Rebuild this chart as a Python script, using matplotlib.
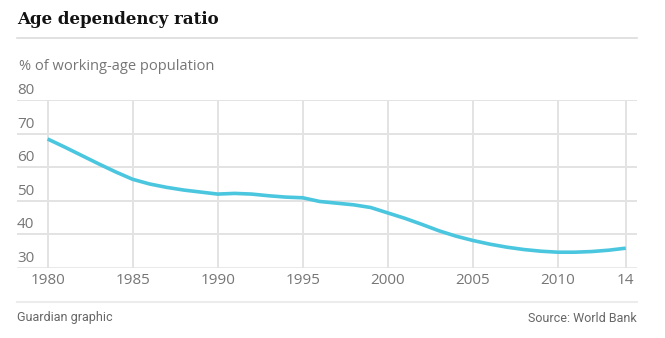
import numpy as np
import matplotlib
matplotlib.use('Agg')
import matplotlib.pyplot as plt
import matplotlib.transforms as mtransforms

# data
years = list(range(1980, 2015))
ratio = [68.4, 66.0, 63.5, 61.0, 58.6, 56.4, 55.0, 54.0, 53.2, 52.6,
         52.0, 52.2, 52.0, 51.5, 51.1, 50.9, 49.8, 49.3, 48.8, 48.0,
         46.4, 44.8, 43.0, 41.1, 39.5, 38.2, 37.1, 36.2, 35.5, 35.0,
         34.7, 34.7, 34.9, 35.3, 35.9]
xticks = [1980, 1985, 1990, 1995, 2000, 2005, 2010, 2014]
xlabels = ['1980', '1985', '1990', '1995', '2000', '2005', '2010', '14']
yticks = [30, 40, 50, 60, 70, 80]

W, H = 665, 338
grid_c = '#e3e3e3'
text_c = '#767676'
line_c = '#4bc6df'
sans = 'Open Sans'

fig = plt.figure(figsize=(W / 100, H / 100), dpi=100)
ax = fig.add_axes([17 / W, (H - 268) / H, (637 - 17) / W, 168 / H])

ax.plot(years, ratio, color=line_c, lw=2.6, solid_capstyle='butt', zorder=3)

ax.set_xlim(1978.2, 2014.66)
ax.set_ylim(30, 80)
for y in yticks:
    ax.axhline(y, color=grid_c, lw=1.4 if y > 30 else 1.8, zorder=1)
for x in xticks:
    ax.axvline(x, color=grid_c, lw=1.4, zorder=1)
for s in ax.spines.values():
    s.set_visible(False)
ax.set_xticks([])
ax.set_yticks([])

# y labels sit above their gridline at the left edge
off = mtransforms.offset_copy(ax.get_yaxis_transform(), fig=fig, x=0, y=1.5, units='points')
for y in yticks:
    ax.text(0, y, str(y), transform=off, ha='left', va='bottom',
            fontsize=11, color=text_c, family=sans)

xtrans = mtransforms.blended_transform_factory(ax.transData, fig.transFigure)
for x, lab in zip(xticks, xlabels):
    ax.text(x, 1 - 280 / H, lab, transform=xtrans,
            ha='center', va='center', fontsize=11, color=text_c, family=sans)

# header
fig.text(17 / W, 1 - 20 / H, 'Age dependency ratio', ha='left', va='center',
         fontsize=12, fontweight='bold', family='DejaVu Serif', color='#121212')
fig.add_artist(plt.Line2D([17 / W, 637 / W], [1 - 37.5 / H] * 2, color='#dcdcdc', lw=1.2))
fig.text(19 / W, 1 - 66 / H, '% of working-age population', ha='left', va='center',
         fontsize=10.5, color=text_c, family=sans)

# footer
fig.add_artist(plt.Line2D([17 / W, 637 / W], [1 - 302 / H] * 2, color='#ececec', lw=1.5))
fig.text(17 / W, 1 - 318 / H, 'Guardian graphic', ha='left', va='center',
         fontsize=9, color='#666666', family='Roboto')
fig.text(637 / W, 1 - 318 / H, 'Source: World Bank', ha='right', va='center',
         fontsize=9, color='#666666', family='Roboto')

fig.savefig('out.png', dpi=100)
